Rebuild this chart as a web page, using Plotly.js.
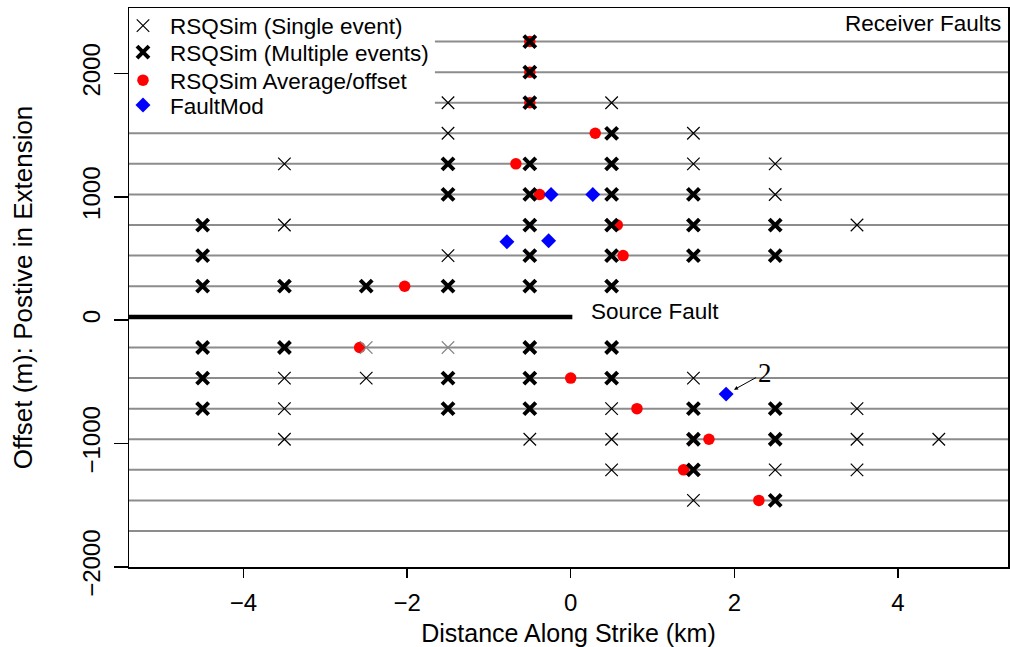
<!DOCTYPE html>
<html>
<head>
<meta charset="utf-8">
<script src="https://cdn.plot.ly/plotly-3.0.1.min.js"></script>
<style>html,body{margin:0;padding:0;background:#fff;}#chart{width:1010px;height:647px;}</style>
</head>
<body>
<div id="chart"></div>
<script>
// ---- Data ----
// Receiver fault lines (offset in m) and where each line starts along strike (km)
const receiverY      = [2259, 2011, 1763, 1515, 1267, 1019, 771, 523, 275, -222, -470, -718, -966, -1214, -1462, -1710];
const receiverStartX = [-1.66, -1.66, -1.66, -5.5, -5.5, -5.5, -5.5, -5.5, -5.5, -5.5, -5.5, -5.5, -5.5, -5.5, -5.5, -5.5];
const receiverEndX   = 5.5;

// Source fault
const sourceX = [-5.5, 0.02];
const sourceY = [26, 26];

// RSQSim single-event offsets
const singleX = [-1.5, 0.5, -1.5, 1.5, -3.5, 1.5, 2.5, 2.5, -3.5, 3.5, -1.5,
                 -3.5, -2.5, 1.5, -3.5, 0.5, 3.5, -3.5, -0.5, 0.5, 3.5, 4.5,
                 0.5, 2.5, 3.5, 1.5, -2.5, -1.5];
const singleY = [1763, 1763, 1515, 1515, 1267, 1267, 1267, 1019, 771, 771, 523,
                 -470, -470, -470, -718, -718, -718, -966, -966, -966, -966, -966,
                 -1214, -1214, -1214, -1462, -222, -222];
const singleColor = ['#000','#000','#000','#000','#000','#000','#000','#000','#000','#000','#000',
                     '#000','#000','#000','#000','#000','#000','#000','#000','#000','#000','#000',
                     '#000','#000','#000','#000','#8a8a8a','#8a8a8a'];

// RSQSim multiple-event offsets
const multiX = [-0.5, -0.5, -0.5, 0.5, -1.5, -0.5, 0.5, -1.5, -0.5, 0.5, 1.5,
                -4.5, -0.5, 0.5, 1.5, 2.5, -4.5, -0.5, 0.5, 1.5, 2.5,
                -4.5, -3.5, -2.5, -1.5, -0.5, 0.5,
                -4.5, -3.5, -0.5, 0.5, -4.5, -1.5, -0.5, 0.5,
                -4.5, -1.5, -0.5, 1.5, 2.5, 1.5, 2.5, 1.5, 2.5];
const multiY = [2259, 2011, 1763, 1515, 1267, 1267, 1267, 1019, 1019, 1019, 1019,
                771, 771, 771, 771, 771, 523, 523, 523, 523, 523,
                275, 275, 275, 275, 275, 275,
                -222, -222, -222, -222, -470, -470, -470, -470,
                -718, -718, -718, -718, -718, -966, -966, -1214, -1462];

// RSQSim average offset per receiver fault
const avgX = [-0.5, -0.5, -0.5, 0.30, -0.67, -0.38, 0.57, 0.64, -2.03, -2.58, 0.0, 0.81, 1.69, 1.38, 2.30];
const avgY = [2259, 2011, 1763, 1515, 1267, 1019, 771, 523, 275, -222, -470, -718, -966, -1214, -1462];

// FaultMod
const fmX = [-0.24, 0.27, -0.78, -0.27, 1.90];
const fmY = [1019, 1019, 635, 643, -600];

const xTickVals = [-4, -2, 0, 2, 4];
const yTickVals = [-2000, -1000, 0, 1000, 2000];

// ---- Build traces ----
const FONT = 'Liberation Sans, Arial, Helvetica, sans-serif';
const lx = [], ly = [];
receiverY.forEach((y, i) => { lx.push(receiverStartX[i], receiverEndX, null); ly.push(y, y, null); });

const traces = [
  {x: lx, y: ly, mode: 'lines', line: {color: '#8c8c8c', width: 2}, showlegend: false, hoverinfo: 'skip'},
  {x: sourceX, y: sourceY, mode: 'lines', line: {color: '#000', width: 4.5}, showlegend: false, hoverinfo: 'skip'},
  {x: avgX, y: avgY, mode: 'markers', name: 'RSQSim Average/offset', legend: 'legend3',
   marker: {symbol: 'circle', size: 11.5, color: '#ff0000'}},
  {x: singleX, y: singleY, mode: 'markers', name: 'RSQSim (Single event)', legend: 'legend',
   marker: {symbol: 'x-thin-open', size: 12.5, color: singleColor, line: {width: 1.2, color: singleColor}}},
  {x: multiX, y: multiY, mode: 'markers', name: 'RSQSim (Multiple events)', legend: 'legend2',
   marker: {symbol: 'x-thin-open', size: 12, color: '#000', line: {width: 4, color: '#000'}}},
  {x: fmX, y: fmY, mode: 'markers', name: 'FaultMod', legend: 'legend4',
   marker: {symbol: 'diamond', size: 11.5, color: '#0000ff'}}
];

function leg(y) {
  return {x: -0.0148, xanchor: 'left', y: y, yanchor: 'middle', bgcolor: 'rgba(0,0,0,0)',
          borderwidth: 0, itemwidth: 44, font: {family: FONT, size: 22.5, color: '#000'}};
}

const layout = {
  width: 1010, height: 647,
  margin: {l: 129, r: 2, t: 8, b: 80},
  paper_bgcolor: '#fff', plot_bgcolor: '#fff',
  font: {family: FONT, color: '#000'},
  xaxis: {
    range: [-5.40, 5.346], tickvals: xTickVals, ticks: 'outside', ticklen: 9, tickwidth: 1.5, tickcolor: '#000',
    showline: true, mirror: true, linecolor: '#000', linewidth: 1.5, showgrid: false, zeroline: false,
    tickfont: {family: FONT, size: 24}, ticklabelstandoff: 5,
    title: {text: 'Distance Along Strike (km)', font: {family: FONT, size: 25}, standoff: 11}
  },
  yaxis: {
    range: [-2002, 2531], tickvals: yTickVals, ticks: 'outside', ticklen: 14, tickwidth: 1.5, tickcolor: '#000',
    showline: true, mirror: true, linecolor: '#000', linewidth: 1.5, showgrid: false, zeroline: false,
    tickangle: -90, tickfont: {family: FONT, size: 24}, ticklabelstandoff: 4,
    title: {text: 'Offset (m): Postive in Extension', font: {family: FONT, size: 26}, standoff: 38}
  },
  legend: leg(0.9678),
  legend2: leg(0.9204),
  legend3: leg(0.8702),
  legend4: leg(0.8259),
  annotations: [
    {text: 'Receiver Faults', xref: 'paper', yref: 'paper', x: 1, y: 0.9714, xanchor: 'right', yanchor: 'middle',
     xshift: -5, showarrow: false, font: {family: FONT, size: 22.5}},
    {text: 'Source Fault', xref: 'x', yref: 'y', x: 0.22, y: 73, xanchor: 'left', yanchor: 'middle',
     showarrow: false, font: {family: FONT, size: 22.5}},
    {text: '2', xref: 'x', yref: 'y', x: fmX[4], y: fmY[4], ax: 38.5, ay: -21.3, standoff: 9,
     showarrow: true, arrowhead: 2, arrowsize: 0.8, arrowwidth: 1, arrowcolor: '#000',
     font: {family: 'Liberation Serif, Times New Roman, serif', size: 27}}
  ]
};

Plotly.newPlot('chart', traces, layout, {staticPlot: true, displayModeBar: false});
</script>
</body>
</html>
